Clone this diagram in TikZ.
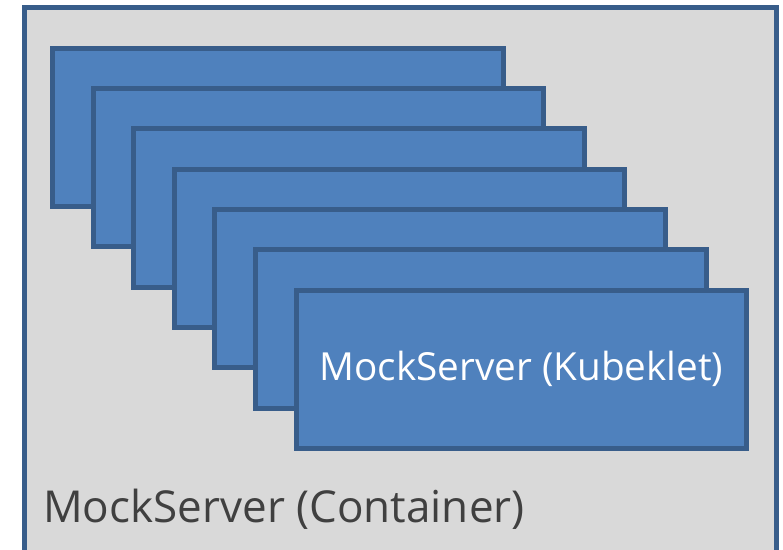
\documentclass[tikz,border=0pt]{standalone}
\usepackage{fontspec}
\setmainfont{Open Sans}
\definecolor{panelgray}{HTML}{D9D9D9}
\definecolor{cardfill}{HTML}{4F81BD}
\definecolor{cardline}{HTML}{385D8A}
\definecolor{labelgray}{HTML}{404040}
\tikzset{
  container/.style={draw=cardline, fill=panelgray, line width=3.75pt},
  card/.style={draw=cardline, fill=cardfill, line width=3.75pt,
    minimum width=338pt, minimum height=118.7pt, inner sep=0pt,
    text=white, font=\fontsize{29}{35}\selectfont},
  caption/.style={text=labelgray, inner sep=0pt, anchor=base west,
    font=\fontsize{33}{40}\selectfont}
}
\begin{document}
\begin{tikzpicture}[x=0.75pt,y=-0.75pt]
  \useasboundingbox (0,0) rectangle (783,550);
  % outer container
  \draw[container] (24.5,7.5) rectangle (776,552);
  \node[caption] (containerlabel) at (43,522.3) {MockServer (Container)};
  % stacked kubelet cards, back to front
  \foreach \i in {0,...,5} {
    \node[card] (card\i) at ({277.85+40.6*\i},{127.35+40.33*\i}) {};
  }
  \node[card] (card6) at ({277.85+40.6*6},{127.35+40.33*6}) {MockServer (Kubeklet)};
\end{tikzpicture}
\end{document}
